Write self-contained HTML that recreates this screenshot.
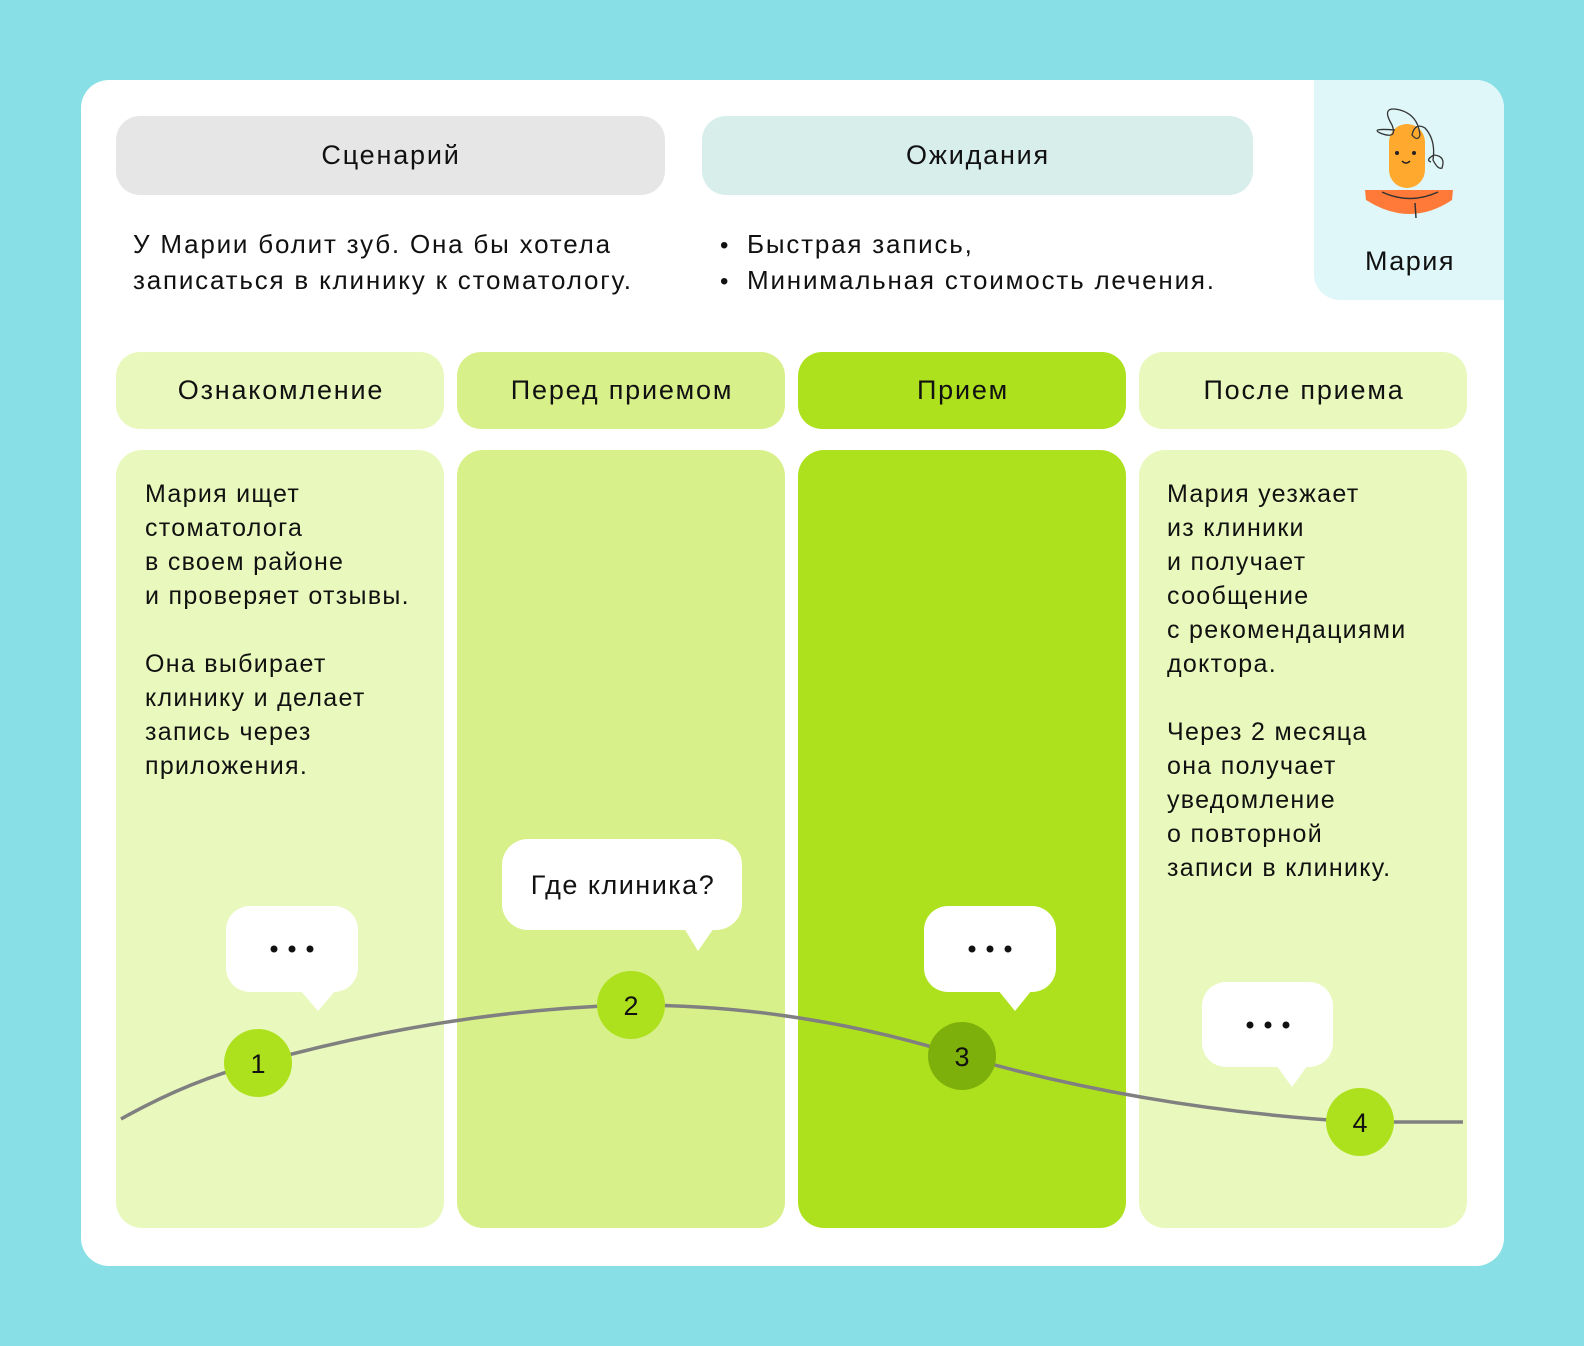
<!DOCTYPE html>
<html><head><meta charset="utf-8"><style>
html,body{margin:0;padding:0;background:#88DFE5;}
svg{display:block;}
text{font-family:"Liberation Sans",sans-serif;fill:#111;}
</style></head><body>
<svg width="1584" height="1346" viewBox="0 0 1584 1346" xmlns="http://www.w3.org/2000/svg">
<rect x="0" y="0" width="1584" height="1346" fill="#88DFE5"/>
<rect x="81" y="80" width="1423" height="1186" rx="28" fill="#fff"/>
<path d="M1314 80 H1476 A28 28 0 0 1 1504 108 V300 H1340 A26 26 0 0 1 1314 274 Z" fill="#DFF7F9"/>
<!-- avatar -->
<path d="M1365 190 L1453 190 L1452 200 Q1410 228 1366 200 Z" fill="#FF7A38"/>
<path d="M1382 192 Q1410 205 1438 192 M1415 203 L1416 218" stroke="#333" stroke-width="1.5" fill="none"/>
<rect x="1389" y="124" width="36" height="64" rx="18" fill="#FFAA2E"/>
<circle cx="1397" cy="153" r="2" fill="#222"/><circle cx="1414" cy="153" r="2" fill="#222"/>
<path d="M1402 161 Q1406 165 1410 161" stroke="#222" stroke-width="1.5" fill="none"/>
<path d="M1395 130 Q1370 128 1380 133 Q1398 140 1392 125 Q1380 105 1400 110 Q1418 115 1420 135 Q1418 142 1412 135 Q1415 122 1425 128 Q1436 140 1433 160 Q1438 170 1442 168 Q1446 156 1434 155 Q1425 160 1431 162" stroke="#333" stroke-width="1.3" fill="none"/>
<text x="1410" y="270" font-size="27" text-anchor="middle" letter-spacing="1.5">Мария</text>
<!-- top pills -->
<g letter-spacing="1.8">
<rect x="116" y="116" width="549" height="79" rx="24" fill="#E6E6E6"/>
<text x="391" y="164" font-size="27" text-anchor="middle">Сценарий</text>
<rect x="702" y="116" width="551" height="79" rx="24" fill="#D7EEEA"/>
<text x="978" y="164" font-size="27" text-anchor="middle">Ожидания</text>
<text x="133" y="253" font-size="26">У Марии болит зуб. Она бы хотела</text>
<text x="133" y="289" font-size="26">записаться в клинику к стоматологу.</text>
<text x="720" y="253" font-size="24">•</text><text x="747" y="253" font-size="26">Быстрая запись,</text>
<text x="720" y="289" font-size="24">•</text><text x="747" y="289" font-size="26">Минимальная стоимость лечения.</text>
</g>
<!-- phase headers -->
<g letter-spacing="1.8">
<rect x="116" y="352" width="328" height="77" rx="24" fill="#E9F8BC"/>
<text x="281" y="399" font-size="27" text-anchor="middle">Ознакомление</text>
<rect x="457" y="352" width="328" height="77" rx="24" fill="#D8F08A"/>
<text x="622" y="399" font-size="27" text-anchor="middle">Перед приемом</text>
<rect x="798" y="352" width="328" height="77" rx="24" fill="#AEE11D"/>
<text x="963" y="399" font-size="27" text-anchor="middle">Прием</text>
<rect x="1139" y="352" width="328" height="77" rx="24" fill="#E9F8BC"/>
<text x="1304" y="399" font-size="27" text-anchor="middle">После приема</text>
</g>
<!-- columns -->
<rect x="116" y="450" width="328" height="778" rx="26" fill="#E9F8BC"/>
<rect x="457" y="450" width="328" height="778" rx="26" fill="#D8F08A"/>
<rect x="798" y="450" width="328" height="778" rx="26" fill="#AEE11D"/>
<rect x="1139" y="450" width="328" height="778" rx="26" fill="#E9F8BC"/>
<g font-size="25" letter-spacing="1.3">
<text x="145" y="502">Мария ищет</text>
<text x="145" y="536">стоматолога</text>
<text x="145" y="570">в своем районе</text>
<text x="145" y="604">и проверяет отзывы.</text>
<text x="145" y="672">Она выбирает</text>
<text x="145" y="706">клинику и делает</text>
<text x="145" y="740">запись через</text>
<text x="145" y="774">приложения.</text>
<text x="1167" y="502">Мария уезжает</text>
<text x="1167" y="536">из клиники</text>
<text x="1167" y="570">и получает</text>
<text x="1167" y="604">сообщение</text>
<text x="1167" y="638">с рекомендациями</text>
<text x="1167" y="672">доктора.</text>
<text x="1167" y="740">Через 2 месяца</text>
<text x="1167" y="774">она получает</text>
<text x="1167" y="808">уведомление</text>
<text x="1167" y="842">о повторной</text>
<text x="1167" y="876">записи в клинику.</text>
</g>
<!-- curve -->
<path d="M121 1119 Q190 1080 258 1063 Q450 1010 631 1005 Q800 1005 962 1056 Q1150 1110 1360 1122 L1463 1122" stroke="#808080" stroke-width="3.5" fill="none"/>
<!-- bubbles -->
<g fill="#fff">
<rect x="226" y="906" width="132" height="86" rx="24"/><path d="M300 990 L318 1011 L336 990 Z"/>
<rect x="502" y="839" width="240" height="91" rx="26"/><path d="M684 928 L698 951 L714 928 Z"/>
<rect x="924" y="906" width="132" height="86" rx="24"/><path d="M998 990 L1015 1011 L1032 990 Z"/>
<rect x="1202" y="982" width="131" height="85" rx="24"/><path d="M1276 1065 L1292 1087 L1308 1065 Z"/>
</g>
<g fill="#111">
<circle cx="274" cy="949" r="3.5"/><circle cx="292" cy="949" r="3.5"/><circle cx="310" cy="949" r="3.5"/>
<circle cx="972" cy="949" r="3.5"/><circle cx="990" cy="949" r="3.5"/><circle cx="1008" cy="949" r="3.5"/>
<circle cx="1250" cy="1025" r="3.5"/><circle cx="1268" cy="1025" r="3.5"/><circle cx="1286" cy="1025" r="3.5"/>
</g>
<text x="623" y="894" font-size="27" text-anchor="middle" letter-spacing="1.5">Где клиника?</text>
<!-- nodes -->
<circle cx="258" cy="1063" r="34" fill="#AEE11D"/><text x="258" y="1073" font-size="27" text-anchor="middle">1</text>
<circle cx="631" cy="1005" r="34" fill="#AEE11D"/><text x="631" y="1015" font-size="27" text-anchor="middle">2</text>
<circle cx="962" cy="1056" r="34" fill="#7DB00A"/><text x="962" y="1066" font-size="27" text-anchor="middle">3</text>
<circle cx="1360" cy="1122" r="34" fill="#AEE11D"/><text x="1360" y="1132" font-size="27" text-anchor="middle">4</text>
</svg>
</body></html>
